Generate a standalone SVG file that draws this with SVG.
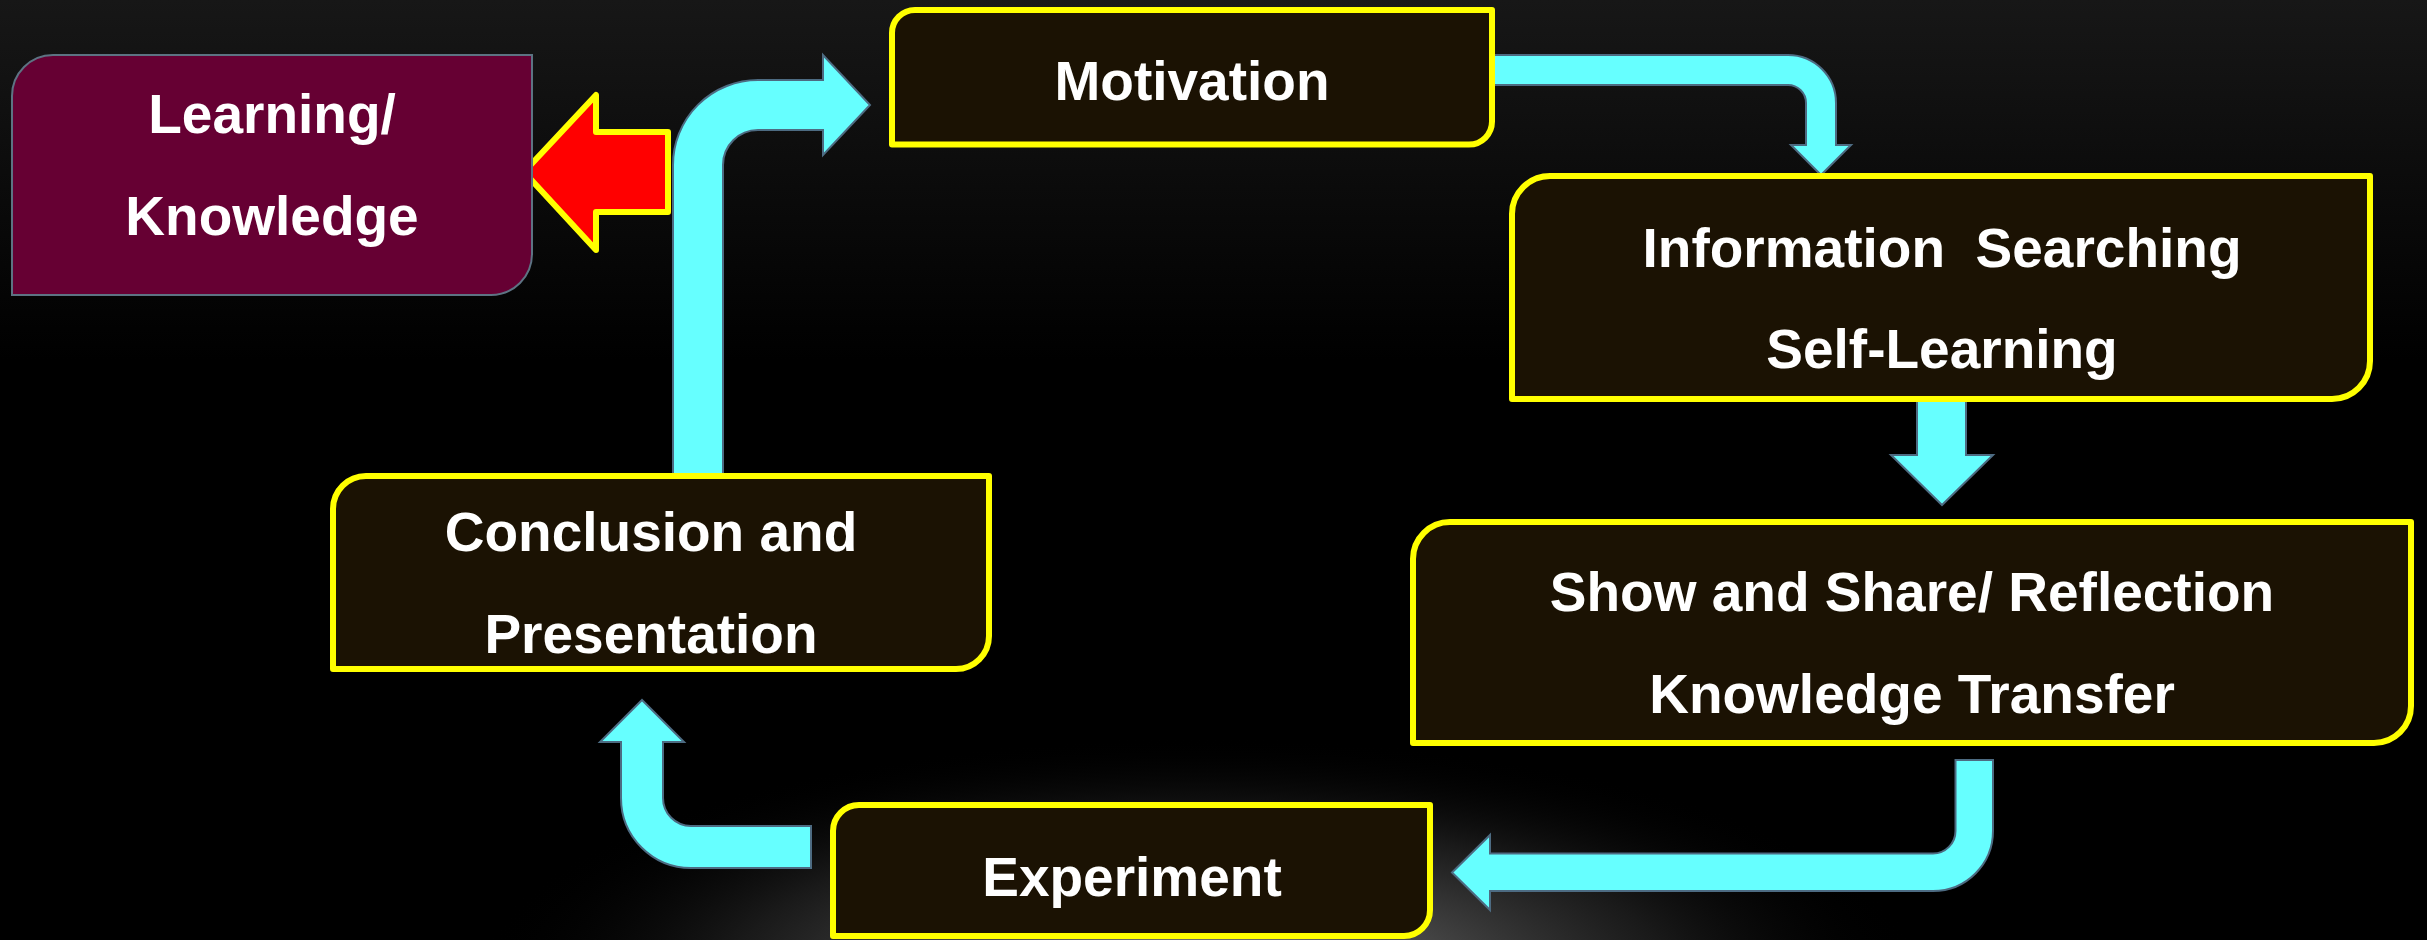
<svg xmlns="http://www.w3.org/2000/svg" width="2427" height="940" viewBox="0 0 2427 940">
  <defs>
    <linearGradient id="topGlow" x1="0" y1="0" x2="0" y2="360" gradientUnits="userSpaceOnUse">
      <stop offset="0" stop-color="#171717"/>
      <stop offset="1" stop-color="#000000"/>
    </linearGradient>
    <radialGradient id="bottomGlow" cx="1200" cy="975" r="720" gradientUnits="userSpaceOnUse" gradientTransform="translate(1200 975) scale(1 0.33) translate(-1200 -975)">
      <stop offset="0" stop-color="#8c8c8c" stop-opacity="1"/>
      <stop offset="0.3" stop-color="#4c4c4c" stop-opacity="1"/>
      <stop offset="0.65" stop-color="#1e1e1e" stop-opacity="0.85"/>
      <stop offset="1" stop-color="#000000" stop-opacity="0"/>
    </radialGradient>
    <style>
      .box { fill: #1b1203; stroke: #ffff00; stroke-width: 6; stroke-linejoin: round; }
      .lk { fill: #660033; stroke: #5d7383; stroke-width: 2; }
      .arrow { fill: #66ffff; stroke: #4d6b82; stroke-width: 2; stroke-linejoin: miter; }
      .red { fill: #ff0000; stroke: #ffff00; stroke-width: 6; stroke-linejoin: round; }
      .t { font-family: "Liberation Sans", Arial, sans-serif; font-weight: bold; font-size: 55px; fill: #ffffff; text-anchor: middle; white-space: pre; }
    </style>
  </defs>

  <rect x="0" y="0" width="2427" height="940" fill="#000000"/>
  <rect x="0" y="0" width="2427" height="940" fill="url(#topGlow)"/>
  <rect x="0" y="0" width="2427" height="940" fill="url(#bottomGlow)"/>

  <g id="connectors">
    <path class="arrow" d="M 673 475 L 673 165 A 85 85 0 0 1 758 80 L 823 80 L 823 55 L 870 105 L 823 155 L 823 130 L 758 130 A 35 35 0 0 0 723 165 L 723 475 Z"/>
    <path class="arrow" d="M 1492 55 L 1788 55 A 48 48 0 0 1 1836 103 L 1836 145 L 1851 145 L 1821 175 L 1791 145 L 1806 145 L 1806 103 A 18 18 0 0 0 1788 85 L 1492 85 Z"/>
    <path class="arrow" d="M 1917 401 L 1966 401 L 1966 455 L 1993 455 L 1942 505 L 1891 455 L 1917 455 Z"/>
    <path class="arrow" d="M 1955.5 760 L 1993 760 L 1993 831 A 60 60 0 0 1 1933 891 L 1490 891 L 1490 910 L 1452 872.5 L 1490 835 L 1490 853.5 L 1933 853.5 A 22.5 22.5 0 0 0 1955.5 831 Z"/>
    <path class="arrow" d="M 811 826 L 811 868 L 691 868 A 70 70 0 0 1 621 798 L 621 742 L 600 742 L 642 700 L 684 742 L 663 742 L 663 798 A 28 28 0 0 0 691 826 Z"/>
    <path class="red" d="M 524 172 L 596 95 L 596 132 L 668 132 L 668 212 L 596 212 L 596 250 Z"/>
  </g>

  <g id="learning-knowledge">
    <path class="lk" d="M 12 96 A 41 41 0 0 1 53 55 L 532 55 L 532 254 A 41 41 0 0 1 491 295 L 12 295 Z"/>
    <text class="t" x="272" y="133">Learning/</text>
    <text class="t" x="272" y="235">Knowledge</text>
  </g>

  <g id="motivation">
    <path class="box" d="M 892 33 A 23 23 0 0 1 915 10 L 1492 10 L 1492 121.5 A 23 23 0 0 1 1469 144.5 L 892 144.5 Z"/>
    <text class="t" x="1192" y="100">Motivation</text>
  </g>

  <g id="information-searching">
    <path class="box" d="M 1512 214 A 38 38 0 0 1 1550 176 L 2370 176 L 2370 361 A 38 38 0 0 1 2332 399 L 1512 399 Z"/>
    <text class="t" x="1942" y="267">Information  Searching</text>
    <text class="t" x="1942" y="368">Self-Learning</text>
  </g>

  <g id="show-and-share">
    <path class="box" d="M 1413 559 A 37 37 0 0 1 1450 522 L 2411 522 L 2411 706 A 37 37 0 0 1 2374 743 L 1413 743 Z"/>
    <text class="t" x="1912" y="611">Show and Share/ Reflection</text>
    <text class="t" x="1912" y="713">Knowledge Transfer</text>
  </g>

  <g id="experiment">
    <path class="box" d="M 833 831 A 26 26 0 0 1 859 805 L 1430 805 L 1430 910 A 26 26 0 0 1 1404 936 L 833 936 Z"/>
    <text class="t" x="1132" y="896">Experiment</text>
  </g>

  <g id="conclusion-presentation">
    <path class="box" d="M 333 509 A 33 33 0 0 1 366 476 L 989 476 L 989 636 A 33 33 0 0 1 956 669 L 333 669 Z"/>
    <text class="t" x="651" y="551">Conclusion and</text>
    <text class="t" x="651" y="653">Presentation</text>
  </g>
</svg>
